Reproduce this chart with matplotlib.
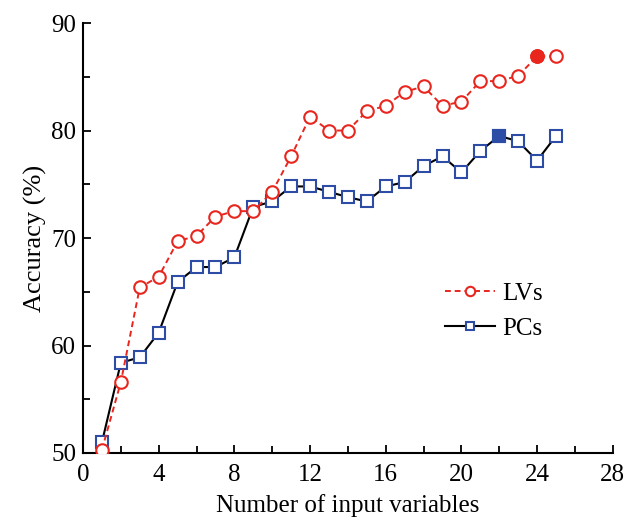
import matplotlib
matplotlib.use("Agg")
import matplotlib.pyplot as plt
from matplotlib.ticker import MultipleLocator

n_vars = list(range(1, 26))
lv_acc = [50.3, 56.6, 65.4, 66.4, 69.7, 70.2, 72.0, 72.5, 72.5, 74.3,
          77.6, 81.3, 80.0, 80.0, 81.8, 82.3, 83.6, 84.1, 82.3, 82.7,
          84.6, 84.6, 85.1, 86.9, 86.9]
pc_acc = [51.0, 58.4, 58.9, 61.2, 65.9, 67.3, 67.3, 68.2, 72.9, 73.4,
          74.8, 74.8, 74.3, 73.8, 73.4, 74.8, 75.2, 76.7, 77.6, 76.1,
          78.1, 79.5, 79.0, 77.2, 79.5]
best_lv = 24
best_pc = 22

plt.rcParams['font.family'] = ['Liberation Serif', 'DejaVu Serif']
red = '#E8261E'
blue = '#2C4CA6'

fig = plt.figure(figsize=(6.41, 5.24), dpi=100)
ax = fig.add_axes([0.1295, 0.1355, 0.8265, 0.8205])

ax.plot(n_vars, lv_acc, linestyle=(0, (3, 2)), color=red, lw=1.4,
        marker='o', ms=9, mfc='white', mec=red, mew=1.5, label='LVs', zorder=3)
ax.plot(n_vars, pc_acc, linestyle='-', color='black', lw=1.5,
        marker='s', ms=8, mfc='white', mec=blue, mew=1.5, label='PCs', zorder=2)
ax.plot([best_lv], [lv_acc[n_vars.index(best_lv)]], linestyle='none', marker='o',
        ms=9, mfc=red, mec=red, mew=1.5, zorder=4)
ax.plot([best_pc], [pc_acc[n_vars.index(best_pc)]], linestyle='none', marker='s',
        ms=8, mfc=blue, mec=blue, mew=1.5, zorder=4)

ax.set_xlim(0, 28)
ax.set_ylim(50, 90)
ax.xaxis.set_major_locator(MultipleLocator(4))
ax.xaxis.set_minor_locator(MultipleLocator(2))
ax.yaxis.set_major_locator(MultipleLocator(10))
ax.yaxis.set_minor_locator(MultipleLocator(5))
ax.tick_params(which='both', direction='in', width=1.3, labelsize=18)
ax.tick_params(which='major', length=6)
ax.tick_params(which='minor', length=5)
ax.tick_params(axis='x', pad=8)
ax.tick_params(axis='y', pad=5)
for s in ['top', 'right']:
    ax.spines[s].set_visible(False)
for s in ['left', 'bottom']:
    ax.spines[s].set_linewidth(1.5)

ax.set_xlabel('Number of input variables', fontsize=18, labelpad=6)
ax.set_ylabel('Accuracy (%)', fontsize=19, labelpad=3)

leg = ax.legend(loc='upper left', bbox_to_anchor=(0.64, 0.45), frameon=False,
                fontsize=18, handlelength=2.0, handletextpad=0.3, labelspacing=0.5,
                markerscale=0.75)

fig.savefig('out.png', dpi=100)
